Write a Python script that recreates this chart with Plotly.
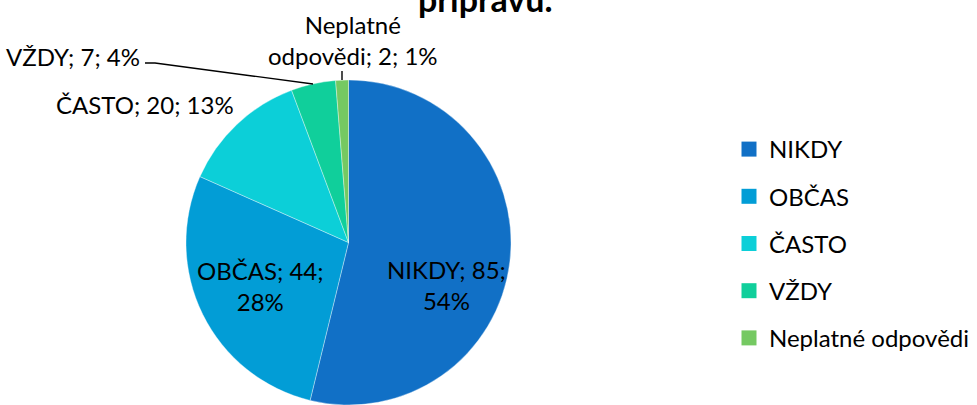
import plotly.graph_objects as go

# Answer categories and counts
categories = ["NIKDY", "OBČAS", "ČASTO", "VŽDY", "Neplatné odpovědi"]
counts = [85, 44, 20, 7, 2]
colors = ["#1170C6", "#029DD6", "#0CCFD8", "#10CF9B", "#75C962"]
title_text = "přípravu."

W, H = 977, 405
FONT = "Lato"
total = sum(counts)
pcts = [round(100 * c / total) for c in counts]


def px(x):
    return x / W


def py(y):
    return 1 - y / H


fig = go.Figure()

# Pie: starts at 12 o'clock and runs clockwise
fig.add_trace(go.Pie(
    labels=categories,
    values=counts,
    sort=False,
    direction="clockwise",
    rotation=0,
    marker=dict(colors=colors, line=dict(color="rgba(255,255,255,0.6)", width=0.6)),
    textinfo="none",
    hoverinfo="label+value+percent",
    showlegend=False,
    domain=dict(x=[px(186), px(511)], y=[0, py(80)]),
))

# Legend entries, one group per category so rows can be spaced apart
for name, col in zip(categories, colors):
    fig.add_trace(go.Scatter(
        x=[None], y=[None], mode="markers", name=name, legendgroup=name,
        marker=dict(symbol="square", size=15, color=col),
        showlegend=True, hoverinfo="skip",
    ))


def label(i, two_lines=False, split_after_name=False):
    name = categories[i]
    if split_after_name:
        parts = name.split(" ")
        return f"{parts[0]}<br>{' '.join(parts[1:])}; {counts[i]}; {pcts[i]}%"
    if two_lines:
        return f"{name}; {counts[i]};<br>{pcts[i]}%"
    return f"{name}; {counts[i]}; {pcts[i]}%"


label_specs = [
    (0, label(0, two_lines=True), 446, 285),
    (1, label(1, two_lines=True), 260, 286),
    (2, label(2), 145, 104),
    (3, label(3), 73, 56),
    (4, label(4, split_after_name=True), 353, 40),
]

annotations = []
for i, txt, x, y in label_specs:
    annotations.append(dict(
        x=px(x), y=py(y), xref="paper", yref="paper", text=txt, showarrow=False,
        xanchor="center", yanchor="middle", align="center",
        font=dict(family=FONT, size=24, color="#000000"),
    ))

# Chart title (only its last line reaches into the top edge)
annotations.append(dict(
    x=px(485), y=py(-2), xref="paper", yref="paper", text=f"<b>{title_text}</b>",
    showarrow=False, xanchor="center", yanchor="middle",
    font=dict(family=FONT, size=34, color="#000000"),
))

# Leader lines for the small slices
shapes = [
    dict(type="path", xref="paper", yref="paper",
         path=f"M {px(145)},{py(63)} L {px(155)},{py(63)} L {px(313)},{py(84)}",
         line=dict(color="#000000", width=1.4)),
    dict(type="line", xref="paper", yref="paper",
         x0=px(342), y0=py(71), x1=px(342), y1=py(80),
         line=dict(color="#000000", width=1.4)),
]

fig.update_layout(
    width=W, height=H,
    margin=dict(l=0, r=0, t=0, b=0, autoexpand=False),
    paper_bgcolor="#FFFFFF", plot_bgcolor="#FFFFFF",
    xaxis=dict(visible=False), yaxis=dict(visible=False),
    annotations=annotations,
    shapes=shapes,
    legend=dict(
        x=px(729), y=py(127), xanchor="left", yanchor="top",
        font=dict(family=FONT, size=24, color="#000000"),
        tracegroupgap=13, itemclick=False, itemdoubleclick=False,
        bgcolor="rgba(0,0,0,0)",
    ),
    font=dict(family=FONT),
)

fig.write_html("out.html")
